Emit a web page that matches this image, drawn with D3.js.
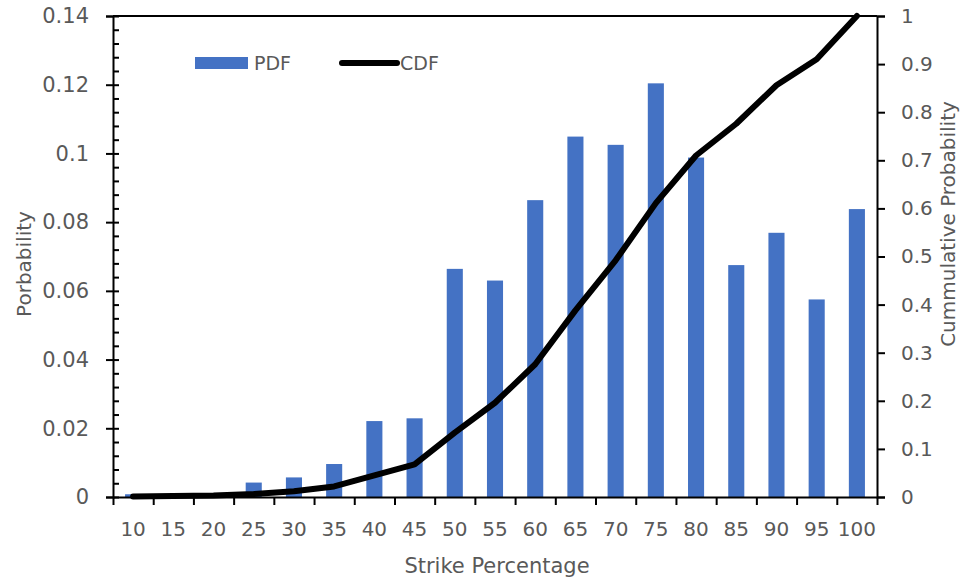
<!DOCTYPE html>
<html>
<head>
<meta charset="utf-8">
<script src="https://cdn.jsdelivr.net/npm/d3@7/dist/d3.min.js"></script>
<style>
  html, body { margin: 0; padding: 0; background: #fff; }
  svg { display: block; }
  text { font-family: "DejaVu Sans", sans-serif; fill: #595959; }
</style>
</head>
<body>
<svg id="chart" width="974" height="579"></svg>
<script>
// ---- data ----
const categories = ["10","15","20","25","30","35","40","45","50","55","60","65","70","75","80","85","90","95","100"];
const pdfValues  = [0.0008,0.0002,0.0002,0.0042,0.0057,0.0096,0.0221,0.0229,0.0664,0.0630,0.0864,0.1049,0.1025,0.1204,0.0988,0.0675,0.0769,0.0575,0.0838];
const cdfValues  = [0.001,0.002,0.003,0.006,0.012,0.022,0.045,0.068,0.134,0.196,0.276,0.388,0.492,0.611,0.710,0.776,0.856,0.910,1.000];
const leftTicks  = [0,0.02,0.04,0.06,0.08,0.10,0.12,0.14];
const leftTickLabels = ["0","0.02","0.04","0.06","0.08","0.1","0.12","0.14"];
const rightTicks = [0,0.1,0.2,0.3,0.4,0.5,0.6,0.7,0.8,0.9,1];
const rightTickLabels = ["0","0.1","0.2","0.3","0.4","0.5","0.6","0.7","0.8","0.9","1"];
const seriesNames = ["PDF","CDF"];
const xTitle = "Strike Percentage";
const yLeftTitle = "Porbability";
const yRightTitle = "Cummulative Probability";

// ---- layout ----
const L = 113, R = 877, T = 16, B = 497;
const barColor = "#4472C4";
const svg = d3.select("#chart");

const x = d3.scaleBand().domain(categories).range([L, R]).paddingInner(0).paddingOuter(0);
const xb = d3.scaleLinear().domain([0, categories.length]).range([L, R]);
const yL = d3.scaleLinear().domain([0, 0.14]).range([B, T]);
const yR = d3.scaleLinear().domain([0, 1]).range([B, T]);

// bars
const bw = x.bandwidth() * 0.4;
svg.append("g").selectAll("rect").data(pdfValues).join("rect")
  .attr("x", (d, i) => x(categories[i]) + (x.bandwidth() - bw) / 2)
  .attr("width", bw)
  .attr("y", d => yL(d))
  .attr("height", d => B - yL(d))
  .attr("fill", barColor);

// CDF line
const line = d3.line()
  .x((d, i) => x(categories[i]) + x.bandwidth() / 2)
  .y(d => yR(d));
svg.append("path").datum(cdfValues)
  .attr("d", line)
  .attr("fill", "none")
  .attr("stroke", "#000")
  .attr("stroke-width", 6)
  .attr("stroke-linejoin", "round")
  .attr("stroke-linecap", "round");

// top border
svg.append("line").attr("x1", L).attr("x2", R).attr("y1", T).attr("y2", T)
  .attr("stroke", "#000").attr("stroke-width", 2);

// left axis (major, crossing ticks)
const gL = svg.append("g").attr("transform", `translate(${L},0)`)
  .call(d3.axisLeft(yL).tickValues(leftTicks).tickFormat((d, i) => leftTickLabels[i]).tickSize(7).tickPadding(17));
gL.selectAll(".tick line").attr("x1", 6).attr("stroke", "#000").attr("stroke-width", 2);
// minor ticks
const minor = d3.range(0, 0.1401, 0.004).filter(v => leftTicks.every(t => Math.abs(t - v) > 1e-6));
svg.append("g").attr("transform", `translate(${L},0)`)
  .call(d3.axisRight(yL).tickValues(minor).tickFormat("").tickSize(6))
  .call(g => g.select(".domain").remove())
  .selectAll(".tick line").attr("stroke", "#000").attr("stroke-width", 2);

// right axis
const gR = svg.append("g").attr("transform", `translate(${R},0)`)
  .call(d3.axisRight(yR).tickValues(rightTicks).tickFormat((d, i) => rightTickLabels[i]).tickSize(8).tickPadding(16));
gR.selectAll(".tick line").attr("stroke", "#000").attr("stroke-width", 2);

// bottom axis: boundary ticks
const gB = svg.append("g").attr("transform", `translate(0,${B})`)
  .call(d3.axisBottom(xb).tickValues(d3.range(categories.length + 1)).tickFormat("").tickSize(8).tickSizeOuter(0));
gB.selectAll(".tick line").attr("stroke", "#000").attr("stroke-width", 2);
// bottom labels
const gBL = svg.append("g").attr("transform", `translate(0,${B})`)
  .call(d3.axisBottom(x).tickSize(0).tickPadding(25))
  .call(g => g.select(".domain").remove());

[gL, gR, gB].forEach(g => g.select(".domain").attr("stroke", "#000").attr("stroke-width", 2));

svg.selectAll(".tick text").attr("font-size", 20).attr("font-family", "DejaVu Sans, sans-serif").attr("fill", "#595959");
gL.selectAll(".tick text").attr("font-size", 21);

// titles
svg.append("text").attr("x", (L + R) / 2 + 2).attr("y", 573)
  .attr("text-anchor", "middle").attr("font-size", 21).text(xTitle);
svg.append("text").attr("transform", `translate(31,264) rotate(-90)`)
  .attr("text-anchor", "middle").attr("font-size", 20).text(yLeftTitle);
svg.append("text").attr("transform", `translate(955,224) rotate(-90)`)
  .attr("text-anchor", "middle").attr("font-size", 20).text(yRightTitle);

// legend
const lg = svg.append("g");
lg.append("rect").attr("x", 195).attr("y", 57).attr("width", 53).attr("height", 12).attr("fill", barColor);
lg.append("text").attr("x", 254).attr("y", 70).attr("font-size", 19).text(seriesNames[0]);
lg.append("line").attr("x1", 342).attr("x2", 397).attr("y1", 63).attr("y2", 63)
  .attr("stroke", "#000").attr("stroke-width", 6).attr("stroke-linecap", "round");
lg.append("text").attr("x", 400).attr("y", 70).attr("font-size", 19).text(seriesNames[1]);
</script>
</body>
</html>
